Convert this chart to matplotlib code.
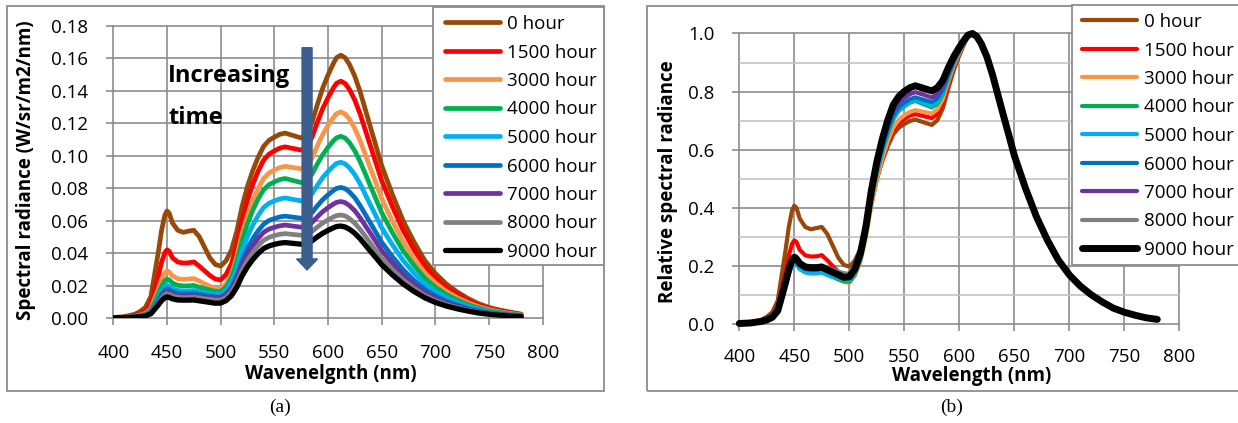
import numpy as np
import matplotlib.pyplot as plt
from matplotlib.patches import Rectangle
from matplotlib.ticker import FormatStrFormatter, MultipleLocator

plt.rcParams['font.family'] = ['Open Sans', 'DejaVu Sans']

# data (W/sr/m2/nm)
wavelength = [400, 410, 420, 425, 430, 435, 440, 442, 445, 448, 450, 452,
              455, 460, 465, 470, 475, 480, 485, 490, 495, 500,
              505, 510, 515, 520, 525, 530, 535, 540, 545, 550, 555, 560, 575,
              580, 585, 590, 595, 600, 605, 608, 612,
              616, 620, 625, 630, 635, 640, 645, 650, 660, 670, 680, 690, 700,
              710, 720, 730, 740, 750, 760, 770, 780]

hours = ['0 hour', '1500 hour', '3000 hour', '4000 hour', '5000 hour',
         '6000 hour', '7000 hour', '8000 hour', '9000 hour']

h0 = [0.0003, 0.0008, 0.0023, 0.0040, 0.0066, 0.0132, 0.033, 0.0409, 0.0541, 0.0634, 0.066, 0.0647,
      0.0587, 0.0541, 0.0528, 0.0535, 0.0541, 0.0502, 0.0436, 0.037, 0.033, 0.032,
      0.0353, 0.0418, 0.0533, 0.0689, 0.0812, 0.091, 0.0992, 0.1058, 0.1095, 0.1115, 0.1132, 0.114, 0.111,
      0.1136, 0.1202, 0.1314, 0.1416, 0.1498, 0.1569, 0.1605, 0.162,
      0.1604, 0.1563, 0.149, 0.1393, 0.128, 0.1166, 0.1053, 0.094, 0.0761, 0.0599, 0.047, 0.0356, 0.0275,
      0.0211, 0.0162, 0.0122, 0.0089, 0.0065, 0.0049, 0.0036, 0.0024]
h1500 = [0.0002, 0.0005, 0.0015, 0.0025, 0.0042, 0.0084, 0.021, 0.026, 0.0344, 0.0403, 0.042, 0.0412,
         0.0372, 0.0345, 0.0339, 0.034, 0.0346, 0.032, 0.0291, 0.0262, 0.024, 0.0235,
         0.0268, 0.0333, 0.0448, 0.0604, 0.0727, 0.0825, 0.0907, 0.0973, 0.101, 0.103, 0.1047, 0.1055, 0.1035,
         0.1056, 0.1112, 0.1205, 0.129, 0.1358, 0.1418, 0.1447, 0.146,
         0.1445, 0.1409, 0.1343, 0.1256, 0.1153, 0.1051, 0.0949, 0.0847, 0.0686, 0.054, 0.0423, 0.0321, 0.0248,
         0.019, 0.0146, 0.011, 0.008, 0.0058, 0.0044, 0.0032, 0.0022]
h3000 = [0.0001, 0.0003, 0.001, 0.0017, 0.0029, 0.0058, 0.0145, 0.018, 0.0238, 0.0278, 0.029, 0.0284,
         0.026, 0.0242, 0.0238, 0.024, 0.0243, 0.0228, 0.0211, 0.0195, 0.0184, 0.018,
         0.021, 0.0271, 0.0376, 0.052, 0.0633, 0.0724, 0.0799, 0.086, 0.0893, 0.0912, 0.0927, 0.0935, 0.092,
         0.0938, 0.0983, 0.106, 0.113, 0.1186, 0.1235, 0.126, 0.127,
         0.1257, 0.1226, 0.1168, 0.1092, 0.1003, 0.0914, 0.0826, 0.0737, 0.0597, 0.047, 0.0368, 0.0279, 0.0216,
         0.0165, 0.0127, 0.0095, 0.007, 0.0051, 0.0038, 0.0028, 0.0019]
h4000 = [0.0001, 0.0003, 0.0008, 0.0014, 0.0024, 0.0048, 0.012, 0.0149, 0.0197, 0.023, 0.024, 0.0235,
         0.0216, 0.0201, 0.0198, 0.0198, 0.0201, 0.019, 0.0181, 0.0172, 0.0165, 0.0163,
         0.0191, 0.0247, 0.0344, 0.0477, 0.0581, 0.0665, 0.0735, 0.079, 0.0822, 0.0839, 0.0853, 0.086, 0.0835,
         0.0849, 0.0886, 0.0949, 0.1006, 0.1052, 0.1092, 0.1111, 0.112,
         0.1109, 0.1081, 0.103, 0.0963, 0.0885, 0.0806, 0.0728, 0.065, 0.0526, 0.0414, 0.0325, 0.0246, 0.019,
         0.0146, 0.0112, 0.0084, 0.0062, 0.0045, 0.0034, 0.0025, 0.0017]
h5000 = [0.0001, 0.0002, 0.0007, 0.0012, 0.002, 0.004, 0.01, 0.0124, 0.0164, 0.0192, 0.02, 0.0196,
         0.0181, 0.017, 0.0167, 0.0167, 0.017, 0.0162, 0.0156, 0.0151, 0.0146, 0.0145,
         0.0169, 0.0216, 0.03, 0.0413, 0.0502, 0.0573, 0.0633, 0.0681, 0.0707, 0.0722, 0.0734, 0.074, 0.0722,
         0.0734, 0.0765, 0.0817, 0.0865, 0.0903, 0.0936, 0.0953, 0.096,
         0.095, 0.0926, 0.0883, 0.0826, 0.0758, 0.0691, 0.0624, 0.0557, 0.0451, 0.0355, 0.0278, 0.0211, 0.0163,
         0.0125, 0.0096, 0.0072, 0.0053, 0.0038, 0.0029, 0.0021, 0.0014]
h6000 = [0.0001, 0.0002, 0.0006, 0.0011, 0.0018, 0.0036, 0.009, 0.0112, 0.0148, 0.0173, 0.018, 0.0176,
         0.0163, 0.0153, 0.015, 0.015, 0.0153, 0.0146, 0.0141, 0.0136, 0.0131, 0.013,
         0.015, 0.019, 0.0259, 0.0354, 0.0429, 0.0489, 0.0538, 0.0578, 0.0601, 0.0613, 0.0623, 0.0628, 0.0615,
         0.0625, 0.0649, 0.0691, 0.0729, 0.0759, 0.0786, 0.0799, 0.0805,
         0.0797, 0.0777, 0.0741, 0.0692, 0.0636, 0.058, 0.0523, 0.0467, 0.0378, 0.0298, 0.0233, 0.0177, 0.0137,
         0.0105, 0.0081, 0.006, 0.0044, 0.0032, 0.0024, 0.0018, 0.0012]
h7000 = [0.0001, 0.0002, 0.0006, 0.001, 0.0016, 0.0032, 0.008, 0.0099, 0.0131, 0.0154, 0.016, 0.0157,
         0.0145, 0.0137, 0.0135, 0.0135, 0.0137, 0.0132, 0.0128, 0.0124, 0.0121, 0.012,
         0.0138, 0.0174, 0.0238, 0.0324, 0.0392, 0.0446, 0.0491, 0.0528, 0.0548, 0.0559, 0.0568, 0.0573, 0.056,
         0.0568, 0.0588, 0.0623, 0.0655, 0.068, 0.0702, 0.0713, 0.0718,
         0.0711, 0.0693, 0.0661, 0.0617, 0.0567, 0.0517, 0.0467, 0.0416, 0.0337, 0.0266, 0.0208, 0.0158, 0.0122,
         0.0093, 0.0072, 0.0054, 0.0039, 0.0029, 0.0022, 0.0016, 0.0011]
h8000 = [0.0001, 0.0002, 0.0005, 0.0009, 0.0015, 0.003, 0.0075, 0.0093, 0.0123, 0.0144, 0.015, 0.0147,
         0.0136, 0.0128, 0.0126, 0.0126, 0.0128, 0.0123, 0.0119, 0.0115, 0.0111, 0.011,
         0.0126, 0.0159, 0.0217, 0.0295, 0.0356, 0.0405, 0.0446, 0.0479, 0.0497, 0.0508, 0.0516, 0.052, 0.051,
         0.0516, 0.0533, 0.056, 0.0585, 0.0605, 0.0623, 0.0631, 0.0635,
         0.0629, 0.0613, 0.0584, 0.0546, 0.0502, 0.0457, 0.0413, 0.0368, 0.0298, 0.0235, 0.0184, 0.014, 0.0108,
         0.0083, 0.0064, 0.0048, 0.0035, 0.0025, 0.0019, 0.0014, 0.001]
h9000 = [0.0001, 0.0002, 0.0005, 0.0008, 0.0013, 0.0026, 0.0065, 0.0081, 0.0107, 0.0125, 0.013, 0.0127,
         0.0118, 0.0111, 0.011, 0.011, 0.0111, 0.0106, 0.0101, 0.0096, 0.0091, 0.0092,
         0.0107, 0.0137, 0.0189, 0.026, 0.0316, 0.0361, 0.0398, 0.0428, 0.0444, 0.0454, 0.0461, 0.0465, 0.0455,
         0.0461, 0.0475, 0.05, 0.0522, 0.054, 0.0556, 0.0564, 0.0567,
         0.0561, 0.0547, 0.0522, 0.0488, 0.0448, 0.0408, 0.0369, 0.0329, 0.0266, 0.021, 0.0164, 0.0125, 0.0096,
         0.0074, 0.0057, 0.0043, 0.0031, 0.0023, 0.0017, 0.0012, 0.0009]

spectra = [h0, h1500, h3000, h4000, h5000, h6000, h7000, h8000, h9000]

colors = ['#984807', '#FF0000', '#F79646', '#00B050', '#00B0F0',
          '#0070C0', '#7030A0', '#808080', '#000000']

W, H = 1238, 423
GRID = '#8c8c8c'
FS = 13.5


def fx(px):
    return px / W


def fy(py):
    return 1 - py / H


def box(x0, y0, x1, y1, **kw):
    r = Rectangle((fx(x0), fy(y1)), fx(x1) - fx(x0), fy(y0) - fy(y1),
                  transform=fig.transFigure, **kw)
    fig.patches.append(r)


fig = plt.figure(figsize=(W / 100, H / 100), dpi=100)

# chart frames
box(7, 6, 604, 391, fill=False, edgecolor=GRID, lw=1.3, zorder=1)
box(647, 6, 1245, 391, fill=False, edgecolor=GRID, lw=1.3, zorder=1)

ax1 = fig.add_axes([fx(113.3), fy(318), fx(542.7) - fx(113.3), fy(26) - fy(318)])
ax2 = fig.add_axes([fx(739.3), fy(324), fx(1179.3) - fx(739.3), fy(33.5) - fy(324)])

for ax in (ax1, ax2):
    for sp in ax.spines.values():
        sp.set_visible(False)
    ax.set_xlim(400, 800)
    ax.xaxis.set_major_locator(MultipleLocator(50))
    ax.grid(True, which='major', color=GRID, lw=1.2)
    ax.set_axisbelow(True)
    ax.tick_params(which='major', direction='out', length=5, width=1.2, color=GRID,
                   labelsize=FS)
    ax.tick_params(axis='y', pad=13)

ax1.tick_params(axis='x', pad=14)
ax2.tick_params(axis='x', pad=12)

ax1.set_ylim(0, 0.18)
ax1.yaxis.set_major_locator(MultipleLocator(0.02))
ax1.yaxis.set_major_formatter(FormatStrFormatter('%.2f'))

ax2.set_ylim(0, 1.0)
ax2.yaxis.set_major_locator(MultipleLocator(0.2))
ax2.yaxis.set_minor_locator(MultipleLocator(0.1))
ax2.yaxis.set_major_formatter(FormatStrFormatter('%.1f'))
ax2.grid(True, which='minor', axis='y', color='#c4c4c4', lw=1.2)
ax2.tick_params(which='minor', length=0)

for ax in (ax1, ax2):
    for gl in ax.get_xgridlines() + ax.get_ygridlines():
        gl.set_clip_on(False)

# (a) absolute spectra
handles1 = []
for s, c in zip(spectra, colors):
    lw = 3.8 if c == '#000000' else 3.4
    ln, = ax1.plot(wavelength, s, color=c, lw=lw, solid_capstyle='round',
                   solid_joinstyle='round')
    handles1.append(ln)

ax1.arrow(580.5, 0.1666, 0, -(0.1666 - 0.0296), width=9.3, head_width=19.6,
          head_length=0.0068, length_includes_head=True, color='#3C5E8C', zorder=4)
ax1.text(451, 0.1457, 'Increasing', fontsize=17, fontweight='bold', va='baseline')
ax1.text(451, 0.1196, 'time', fontsize=17, fontweight='bold', va='baseline')

# (b) spectra normalised to their own peak
handles2 = []
for s, c in zip(spectra, colors):
    rel = np.array(s) / max(s)
    lw = 5.0 if c == '#000000' else 3.0
    ln, = ax2.plot(wavelength, rel, color=c, lw=lw, solid_capstyle='round',
                   solid_joinstyle='round', clip_on=False)
    handles2.append(ln)

# axis titles
fig.text(fx(331), fy(374), 'Wavenelgnth (nm)', ha='center', va='center',
         fontsize=FS, fontweight='bold')
fig.text(fx(26), fy(170), 'Spectral radiance (W/sr/m2/nm)', ha='center', va='center',
         rotation=90, fontsize=FS, fontweight='bold')
fig.text(fx(972), fy(376), 'Wavelength (nm)', ha='center', va='center',
         fontsize=FS, fontweight='bold')
fig.text(fx(668), fy(182), 'Relative spectral radiance', ha='center', va='center',
         rotation=90, fontsize=FS, fontweight='bold')

# legends
box(433, 7, 604, 265, facecolor='white', edgecolor=GRID, lw=1.3, zorder=5)
box(1072, 5, 1245, 265, facecolor='white', edgecolor=GRID, lw=1.3, zorder=5)

for hs, x0, y0 in ((handles1, 445, 15), (handles2, 1082, 13)):
    lg = fig.legend(hs, hours, loc='upper left', bbox_to_anchor=(fx(x0), fy(y0)),
                    bbox_transform=fig.transFigure, frameon=False, borderpad=0,
                    borderaxespad=0, handlelength=2.93, handletextpad=0.4,
                    labelspacing=0.56, fontsize=FS)
    lg.set_zorder(6)

fig.text(fx(279.5), fy(407), '(a)', ha='center', va='center', fontsize=14,
         family='Liberation Serif')
fig.text(fx(951.5), fy(407), '(b)', ha='center', va='center', fontsize=14,
         family='Liberation Serif')

fig.savefig('out.png', dpi=100)
